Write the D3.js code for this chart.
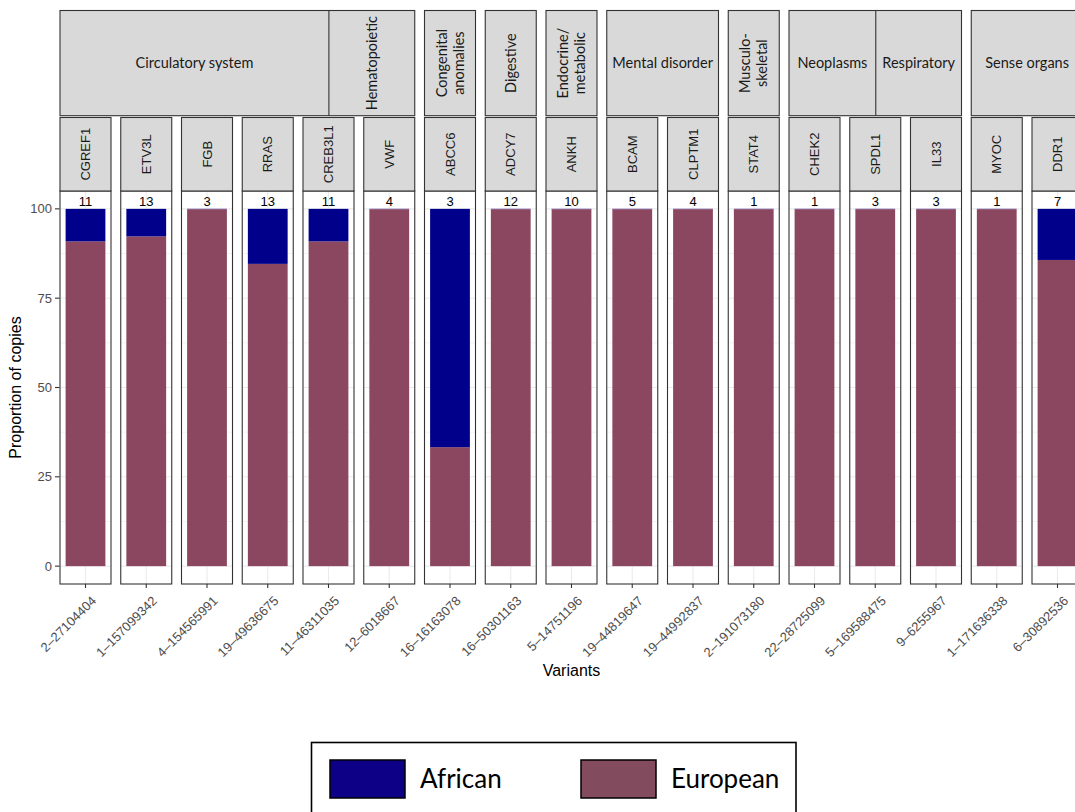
<!DOCTYPE html>
<html><head><meta charset="utf-8">
<script src="https://cdn.jsdelivr.net/npm/d3@7"></script>
<style>body{margin:0;background:#fff}svg{display:block}</style>
</head><body>
<script>
// ---- data ----
const variants = ["2–27104404","1–157099342","4–154565991","19–49636675","11–46311035","12–6018667","16–16163078","16–50301163","5–14751196","19–44819647","19–44992837","2–191073180","22–28725099","5–169588475","9–6255967","1–171636338","6–30892536"];
const genes = ["CGREF1","ETV3L","FGB","RRAS","CREB3L1","VWF","ABCC6","ADCY7","ANKH","BCAM","CLPTM1","STAT4","CHEK2","SPDL1","IL33","MYOC","DDR1"];
const categories = ["Circulatory system","Circulatory system","Circulatory system","Circulatory system","Circulatory system","Hematopoietic","Congenital anomalies","Digestive","Endocrine/metabolic","Mental disorder","Mental disorder","Musculoskeletal","Neoplasms","Respiratory","Respiratory","Sense organs","Sense organs"];
const counts = [11,13,3,13,11,4,3,12,10,5,4,1,1,3,3,1,7];
const european = [90.9,92.3,100,84.6,90.9,100,33.3,100,100,100,100,100,100,100,100,100,85.7];
const african = [9.1,7.7,0,15.4,9.1,0,66.7,0,0,0,0,0,0,0,0,0,14.3];
const yTicks = [0,25,50,75,100];
const yMinor = [12.5,37.5,62.5,87.5];
const populations = ["African","European"];
// strip label text (display form) and groups drawn as one joined box
const categoryLabels = {"Circulatory system":["Circulatory system"],"Hematopoietic":["Hematopoietic"],"Congenital anomalies":["Congenital","anomalies"],"Digestive":["Digestive"],"Endocrine/metabolic":["Endocrine/","metabolic"],"Mental disorder":["Mental disorder"],"Musculoskeletal":["Musculo-","skeletal"],"Neoplasms":["Neoplasms"],"Respiratory":["Respiratory"],"Sense organs":["Sense organs"]};
const rotatedCats = ["Hematopoietic","Congenital anomalies","Digestive","Endocrine/metabolic","Musculoskeletal"];
const joinedStrips = [["Circulatory system","Hematopoietic"],["Neoplasms","Respiratory"]];

// ---- layout ----
const W = 1075, H = 812;
const panelTop = 191, panelBottom = 584;
const geneTop = 117.5, topTop = 10.5, topBottom = 115.7;
const colors = {African:"#00008B", European:"#8B475F"};
const legendColors = {African:"#0E0086", European:"#834B5E"};
const border = "#333333", stripFill = "#D9D9D9", grid = "#EBEBEB";
const sans = "Liberation Sans, Arial, sans-serif";
const humanist = "Lato, Open Sans, sans-serif";
const joinFrac = {"Circulatory system":0.758, "Neoplasms":0.503};

const svg = d3.select("body").append("svg").attr("width",W).attr("height",H);

const x = d3.scaleBand().domain(variants).range([60, 1083]).paddingInner(0.1605).paddingOuter(0);
const y = d3.scaleLinear().domain([-5,105]).range([panelBottom, panelTop]);
const bw = x.bandwidth();
const barW = bw*0.78;

const data = variants.map((v,i)=>({v, gene:genes[i], cat:categories[i], n:counts[i], eu:european[i], af:african[i]}));

// panels
const p = svg.selectAll("g.panel").data(data).join("g").attr("class","panel")
  .attr("transform", d=>`translate(${x(d.v)},0)`);
p.append("rect").attr("x",0).attr("y",panelTop).attr("width",bw).attr("height",panelBottom-panelTop).attr("fill","#fff");
p.each(function(){
  const g = d3.select(this);
  yMinor.forEach(t=>g.append("line").attr("x1",0).attr("x2",bw).attr("y1",y(t)).attr("y2",y(t)).attr("stroke",grid).attr("stroke-width",0.6));
  yTicks.forEach(t=>g.append("line").attr("x1",0).attr("x2",bw).attr("y1",y(t)).attr("y2",y(t)).attr("stroke",grid).attr("stroke-width",1.1));
  g.append("line").attr("x1",bw/2).attr("x2",bw/2).attr("y1",panelTop).attr("y2",panelBottom).attr("stroke",grid).attr("stroke-width",1.1);
});
// stacked bars
p.append("rect").attr("x",(bw-barW)/2).attr("width",barW)
  .attr("y",d=>y(d.eu)).attr("height",d=>y(0)-y(d.eu)).attr("fill",colors.European);
p.append("rect").attr("x",(bw-barW)/2).attr("width",barW)
  .attr("y",d=>y(100)).attr("height",d=>y(d.eu)-y(100)).attr("fill",colors.African);
p.filter(d=>d.af===0).append("rect").attr("x",(bw-barW)/2).attr("width",barW)
  .attr("y",y(100)-0.5).attr("height",1).attr("fill","#A9A9E0").attr("opacity",0.7);
// counts
p.append("text").attr("x",bw/2).attr("y",y(100)-3).attr("text-anchor","middle")
  .attr("font-family",sans).attr("font-size",13).attr("fill","#000").text(d=>d.n);
// border
p.append("rect").attr("x",0).attr("y",panelTop).attr("width",bw).attr("height",panelBottom-panelTop)
  .attr("fill","none").attr("stroke",border).attr("stroke-width",1.1);
// gene strip
p.append("rect").attr("x",0).attr("y",geneTop).attr("width",bw).attr("height",panelTop-geneTop)
  .attr("fill",stripFill).attr("stroke",border).attr("stroke-width",1.1);
p.append("text").attr("transform",`translate(${bw/2},${(geneTop+panelTop)/2}) rotate(-90)`)
  .attr("text-anchor","middle").attr("dy","0.36em").attr("font-family",sans).attr("font-size",13)
  .attr("fill","#1a1a1a").text(d=>d.gene);
// x ticks
p.append("line").attr("x1",bw/2).attr("x2",bw/2).attr("y1",panelBottom).attr("y2",panelBottom+4).attr("stroke",border).attr("stroke-width",1.1);
p.append("text").attr("transform",`translate(${bw/2+5},${panelBottom+11}) rotate(-45)`)
  .attr("text-anchor","end").attr("dy","0.71em").attr("font-family",sans).attr("font-size",13)
  .attr("fill","#4D4D4D").text(d=>d.v);

// category strips
const catOrder = Array.from(new Set(categories));
const catExtent = {};
catOrder.forEach(c=>{
  const idx = variants.filter((v,i)=>categories[i]===c);
  catExtent[c] = [x(idx[0]), x(idx[idx.length-1])+bw];
});
const drawnJoined = new Set();
joinedStrips.forEach(js=>{
  const x0 = catExtent[js[0]][0], x1 = catExtent[js[js.length-1]][1];
  const xm = x0 + (x1-x0)*joinFrac[js[0]];
  svg.append("rect").attr("x",x0).attr("y",topTop).attr("width",x1-x0).attr("height",topBottom-topTop)
    .attr("fill",stripFill).attr("stroke",border).attr("stroke-width",1.1);
  svg.append("line").attr("x1",xm).attr("x2",xm).attr("y1",topTop).attr("y2",topBottom).attr("stroke",border).attr("stroke-width",1.1);
  catExtent[js[0]] = [x0, xm]; catExtent[js[1]] = [xm, x1];
  js.forEach(c=>drawnJoined.add(c));
});
catOrder.forEach(c=>{
  const [x0,x1] = catExtent[c];
  if(!drawnJoined.has(c)){
    svg.append("rect").attr("x",x0).attr("y",topTop).attr("width",x1-x0).attr("height",topBottom-topTop)
      .attr("fill",stripFill).attr("stroke",border).attr("stroke-width",1.1);
  }
  const cx = (x0+x1)/2, cy = (topTop+topBottom)/2;
  const lines = categoryLabels[c];
  const rot = rotatedCats.includes(c);
  const t = svg.append("text").attr("transform", rot?`translate(${cx},${cy}) rotate(-90)`:`translate(${cx},${cy})`)
    .attr("text-anchor","middle").attr("font-family",humanist).attr("font-size",14.5).attr("fill","#1a1a1a");
  const lh = 17;
  lines.forEach((l,k)=>{
    t.append("tspan").attr("x",0).attr("y",(k-(lines.length-1)/2)*lh).attr("dy","0.35em").text(l);
  });
});

// y axis
const ya = svg.append("g");
yTicks.forEach(t=>{
  ya.append("line").attr("x1",55).attr("x2",59.5).attr("y1",y(t)).attr("y2",y(t)).attr("stroke",border).attr("stroke-width",1.1);
  ya.append("text").attr("x",52).attr("y",y(t)).attr("dy","0.35em").attr("text-anchor","end")
    .attr("font-family",sans).attr("font-size",13).attr("fill","#4D4D4D").text(t);
});
svg.append("text").attr("transform",`translate(21,${(panelTop+panelBottom)/2}) rotate(-90)`)
  .attr("text-anchor","middle").attr("font-family",sans).attr("font-size",16).attr("fill","#000").text("Proportion of copies");
svg.append("text").attr("x",(60+1083)/2).attr("y",676).attr("text-anchor","middle")
  .attr("font-family",sans).attr("font-size",16).attr("fill","#000").text("Variants");

// legend
const lg = svg.append("g");
lg.append("rect").attr("x",311.5).attr("y",742.5).attr("width",484.5).attr("height",100)
  .attr("fill","#fff").attr("stroke","#000").attr("stroke-width",1.6);
const keyX = d3.scalePoint().domain(populations).range([330, 581]);
populations.forEach(pop=>{
  lg.append("rect").attr("x",keyX(pop)).attr("y",760).attr("width",75).attr("height",38)
    .attr("fill",legendColors[pop]).attr("stroke","#000").attr("stroke-width",1.5);
  lg.append("text").attr("x",keyX(pop)+90).attr("y",779).attr("dy","0.35em")
    .attr("font-family",humanist).attr("font-size",26).attr("fill","#000").text(pop);
});
</script>
</body></html>
